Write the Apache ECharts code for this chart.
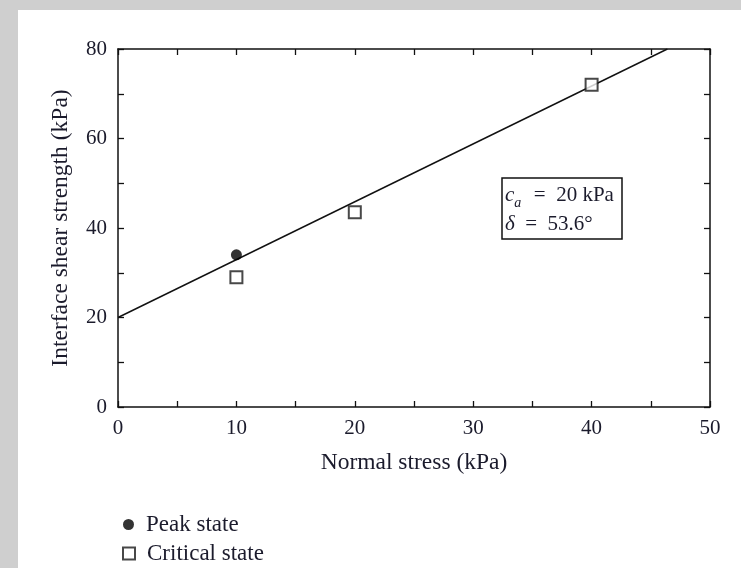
<!DOCTYPE html>
<html><head><meta charset="utf-8">
<script src="https://cdn.jsdelivr.net/npm/echarts@6/dist/echarts.min.js"></script>
<style>html,body{margin:0;padding:0;background:#cfcfcf;} #c{width:741px;height:568px;}</style>
</head><body><div id="c"></div>
<script>
// ---- data ----
const xTicks = [0, 10, 20, 30, 40, 50];
const yTicks = [0, 20, 40, 60, 80];
const peakState = [[10, 34]];
const criticalState = [[10, 29], [20, 43.5], [40, 72]];
const fitLine = [[0, 20], [46.4, 80]];
const seriesNames = ['Peak state', 'Critical state'];
const xName = 'Normal stress (kPa)';
const yName = 'Interface shear strength (kPa)';

const FONT = '"Liberation Serif", "Times New Roman", serif';
const TXT = '#1b1b2c';
const chart = echarts.init(document.getElementById('c'), null, {renderer: 'canvas'});

const tickCommon = (showLabel, pos) => ({
  axisLine: {show: true, onZero: false, lineStyle: {color: '#111', width: 1.5}},
  axisTick: {show: true, inside: true, length: 6, lineStyle: {color: '#111', width: 1.3}},
  minorTick: {show: true, splitNumber: 2, length: 6, lineStyle: {color: '#111', width: 1.3}},
  splitLine: {show: false},
  axisLabel: {show: showLabel, fontFamily: FONT, fontSize: 21, color: TXT, margin: 11},
  position: pos
});

const legendText = {fontFamily: FONT, fontSize: 23, color: TXT, padding: [0, 0, 0, 7]};

const option = {
  backgroundColor: '#cfcfcf',
  animation: false,
  graphic: [
    {type: 'rect', z: -10, shape: {x: 18, y: 10, width: 723, height: 558}, style: {fill: '#fff'}},
    {type: 'rect', z: 10, shape: {x: 502, y: 178, width: 120, height: 61}, style: {fill: '#fff', stroke: '#111', lineWidth: 1.5}},
    {type: 'text', z: 11, left: 505, top: 181, style: {
      text: '{i|c}{s|a}  =  20 kPa\n{i|δ}  =  53.6°',
      font: '21px ' + FONT, fill: TXT, lineHeight: 29,
      rich: {
        i: {fontFamily: FONT, fontSize: 21, fontStyle: 'italic', fill: TXT},
        s: {fontFamily: FONT, fontSize: 14, fontStyle: 'italic', fill: TXT, verticalAlign: 'bottom', padding: [10, 2, 0, 0]}
      }
    }}
  ],
  grid: {left: 118, top: 49, width: 592, height: 358, outerBoundsMode: 'none', containLabel: false},
  legend: [
    {left: 118, top: 508, itemWidth: 11, itemHeight: 11, data: [seriesNames[0]], textStyle: legendText},
    {left: 117, top: 537, itemWidth: 12, itemHeight: 12, data: [seriesNames[1]], textStyle: legendText}
  ],
  xAxis: [
    Object.assign({type: 'value', min: xTicks[0], max: xTicks[xTicks.length - 1], interval: xTicks[1] - xTicks[0],
      name: xName, nameLocation: 'middle', nameGap: 44,
      nameTextStyle: {fontFamily: FONT, fontSize: 23.5, color: TXT}}, tickCommon(true, 'bottom')),
    Object.assign({type: 'value', min: xTicks[0], max: xTicks[xTicks.length - 1], interval: xTicks[1] - xTicks[0]}, tickCommon(false, 'top'))
  ],
  yAxis: [
    Object.assign({type: 'value', min: yTicks[0], max: yTicks[yTicks.length - 1], interval: yTicks[1] - yTicks[0],
      name: yName, nameLocation: 'middle', nameGap: 45,
      nameTextStyle: {fontFamily: FONT, fontSize: 23.5, color: TXT}}, tickCommon(true, 'left')),
    Object.assign({type: 'value', min: yTicks[0], max: yTicks[yTicks.length - 1], interval: yTicks[1] - yTicks[0]}, tickCommon(false, 'right'))
  ],
  series: [
    {name: 'fit', type: 'line', data: fitLine, showSymbol: false, symbol: 'none',
      lineStyle: {color: '#111', width: 1.4}, z: 2, silent: true},
    {name: seriesNames[0], type: 'scatter', data: peakState, symbol: 'circle', symbolSize: 11,
      itemStyle: {color: '#000'}, z: 4},
    {name: seriesNames[1], type: 'scatter', data: criticalState, symbol: 'rect', symbolSize: 12,
      itemStyle: {color: '#fff', borderColor: '#1a1a1a', borderWidth: 2}, z: 3}
  ]
};
chart.setOption(option);
</script>
</body></html>
